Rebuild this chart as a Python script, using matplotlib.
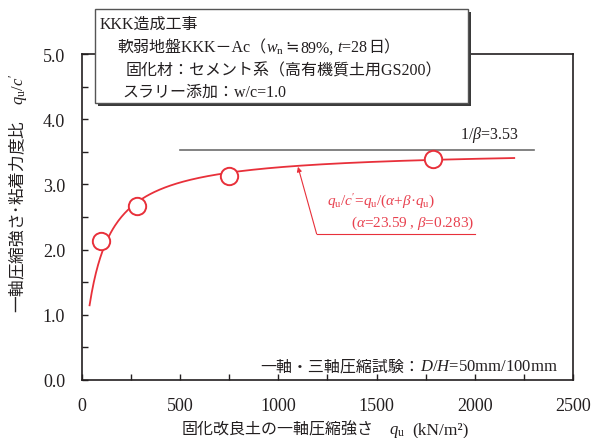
import matplotlib
matplotlib.use('Agg')
import matplotlib.pyplot as plt
import numpy as np
from matplotlib.offsetbox import TextArea, HPacker, AnchoredOffsetbox, DrawingArea
from matplotlib.patches import Rectangle
from matplotlib.ticker import MultipleLocator, FormatStrFormatter

plt.rcParams['mathtext.fontset'] = 'custom'
plt.rcParams['mathtext.rm'] = 'Liberation Serif'
plt.rcParams['mathtext.it'] = 'Liberation Serif:italic'
plt.rcParams['mathtext.bf'] = 'Liberation Serif:bold'
plt.rcParams['font.family'] = ['Liberation Serif', 'Noto Sans CJK JP', 'DejaVu Sans']

# ---- data ----
qu_obs = [100, 280, 750, 1785]
ratio_obs = [2.13, 2.67, 3.125, 3.39]
alpha = 23.59          # fitted parameters printed on the chart
beta = 0.283
curve_range = [40, 2200]
asym_range = [500, 2300]
x_ticks = [0, 500, 1000, 1500, 2000, 2500]
y_ticks = [0.0, 1.0, 2.0, 3.0, 4.0, 5.0]

box_lines = [
    [("KKK造成工事", 11.5)],
    [("軟弱地盤KKK－Ac（", 11.5), ("$w_{\\mathrm{n}}$", 11.5), 1, ("≒", 11.5, None, ['Noto Sans CJK JP', 'DejaVu Sans']),
     1, ("89%,", 11.5), 2.5, ("$t$=28", 11.5), ("日）", 11.5)],
    [("固化材：セメント系（高有機質土用GS200）", 11.5)],
    [("スラリー添加：w/c=1.0", 11.5)],
]

W, H = 600, 439
RED = '#e8303a'
RED_T = '#e8414f'
TXT = '#231f20'

fig = plt.figure(figsize=(6, 4.39), dpi=100)
ax = fig.add_axes([81.7 / W, 1 - 381 / H, 491.5 / W, 326 / H])

qu_curve = np.linspace(curve_range[0], curve_range[1], 400)
ax.plot(qu_curve, qu_curve / (alpha + beta * qu_curve), color=RED, lw=1.3, zorder=3)
ax.plot(asym_range, [1 / beta] * 2, color='#6d6d6d', lw=1.2, zorder=2)
ax.plot(qu_obs, ratio_obs, 'o', ms=12.5, mfc='white', mec=RED, mew=1.4, zorder=4)

ax.set_xlim(0, 2500)
ax.set_ylim(0, 5)
ax.set_xticks(x_ticks)
ax.set_yticks(y_ticks)
ax.xaxis.set_minor_locator(MultipleLocator(250))
ax.yaxis.set_minor_locator(MultipleLocator(0.5))
ax.yaxis.set_major_formatter(FormatStrFormatter('%.1f'))
ax.tick_params(which='both', direction='in', length=4, width=1.0, color=TXT,
               top=False, right=False)
ax.tick_params(which='major', labelsize=13, labelcolor=TXT, pad=12)
for s in ax.spines.values():
    s.set_color(TXT)
    s.set_linewidth(1.2)

# asymptote label
ax.text(2225, 3.77, '1/$\\beta$=3.53', ha='right', va='center', fontsize=11.5, color=TXT)

# annotation
ax.text(1250, 2.75, "$q_{\\mathrm{u}}/c'$=$q_{\\mathrm{u}}$/($\\alpha$+$\\beta$·$q_{\\mathrm{u}}$)",
        ha='left', va='center', fontsize=11, color=RED_T)
ax.text(1372, 2.42, "($\\alpha$=23.59 , $\\beta$=0.283)",
        ha='left', va='center', fontsize=11, color=RED_T)
ax.annotate('', xy=(1100, 3.27), xytext=(1195, 2.24),
            arrowprops=dict(arrowstyle='-|>', color=RED, lw=0.8, mutation_scale=7,
                            shrinkA=0, shrinkB=0))
ax.plot([1195, 2000], [2.24, 2.24], color=RED, lw=0.8)


def place(segs, x, y, loc='center left', zorder=8):
    children = []
    for s in segs:
        if isinstance(s, (int, float)):
            children.append(DrawingArea(s, 1))
        else:
            col = s[2] if len(s) > 2 and s[2] else TXT
            props = dict(fontsize=s[1], color=col)
            if len(s) > 3:
                props['family'] = s[3]
            children.append(TextArea(s[0], textprops=props))
    pk = HPacker(children=children, align='baseline', pad=0, sep=0)
    ab = AnchoredOffsetbox(loc=loc, child=pk, pad=0, borderpad=0, frameon=False,
                           bbox_to_anchor=(x / W, 1 - y / H),
                           bbox_transform=fig.transFigure)
    ab.set_zorder(zorder)
    fig.add_artist(ab)


# condition box with shadow
bx0, by0, bx1, by1 = 95, 10, 468, 104
fig.add_artist(Rectangle((bx0 / W + 3 / W, 1 - (by1 + 3) / H), (bx1 - bx0) / W, (by1 - by0) / H,
                         transform=fig.transFigure, facecolor='#3a3a3a', edgecolor='none', zorder=6))
fig.add_artist(Rectangle((bx0 / W, 1 - by1 / H), (bx1 - bx0) / W, (by1 - by0) / H,
                         transform=fig.transFigure, facecolor='white', edgecolor='#555555',
                         lw=1.0, zorder=7))
line_x = [100, 117, 126, 122]
line_y = [25, 48, 71, 93]
for segs, lx, ly in zip(box_lines, line_x, line_y):
    place(segs, lx, ly)

# test condition note
place([("一軸・三軸圧縮試験：", 11.5), ("$D/H$=50mm/100mm", 12)], 558, 367,
      loc='center right')

# x label
place([("固化改良土の一軸圧縮強さ", 11.5), 11, ("$q_{\\mathrm{u}}$", 12), 5, ("(kN/m²)", 12.5)],
      325, 431, loc='center')

# y label
fig.text(18 / W, 1 - 193 / H, "一軸圧縮強さ･粘着力度比　$q_{\\mathrm{u}}/c'$", rotation=90,
         ha='center', va='center', fontsize=12, family='Noto Sans CJK JP', color=TXT)

fig.savefig('out.png', dpi=100)
